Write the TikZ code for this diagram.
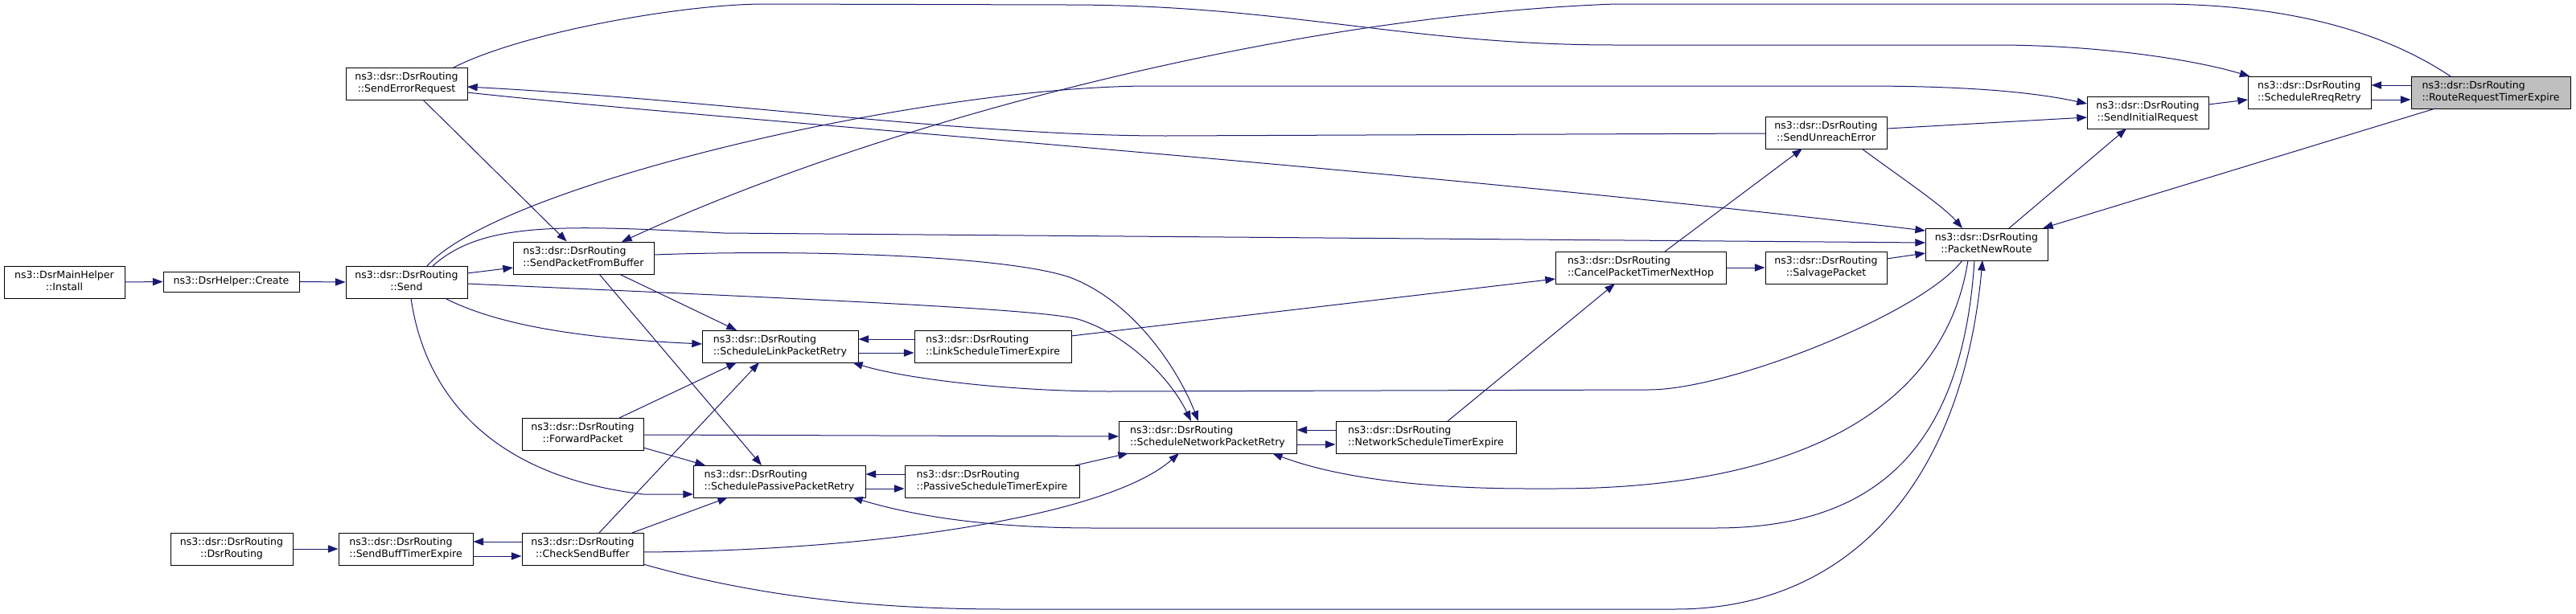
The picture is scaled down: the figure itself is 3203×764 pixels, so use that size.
\documentclass[tikz,border=0pt]{standalone}
\usepackage{fontspec}
\setmainfont{DejaVu Sans}
\usetikzlibrary{arrows.meta,calc}
\definecolor{edgeblue}{HTML}{191970}
\definecolor{rootgray}{HTML}{BFBFBF}
\newcommand\twol[2]{\begin{tabular}{@{}l@{}}#1\\\hfill#2\hfill\mbox{}\end{tabular}}
\tikzset{
  fbox/.style 2 args={draw=black, line width=0.75pt, fill=white, inner sep=0pt,
    minimum width=#1*0.75pt, minimum height=#2*0.75pt,
    font=\fontsize{9.4}{11.25}\selectfont},
  rootbox/.style={fill=rootgray},
  edge/.style={draw=edgeblue, line width=0.75pt, -{Triangle[length=9.5pt,width=7pt]}},
}
\begin{document}
\begin{tikzpicture}[x=0.75pt,y=-0.75pt]
\useasboundingbox (0,0) rectangle (3203,764);
% nodes
\node[fbox={150}{40}] (inst) at (80,351) {\twol{ns3::DsrMainHelper}{::Install}};
\node[fbox={169}{25}] (create) at (287.5,350.5) {ns3::DsrHelper::Create};
\node[fbox={151}{40}] (send) at (505.5,351) {\twol{ns3::dsr::DsrRouting}{::Send}};
\node[fbox={151}{40}] (ser) at (505.5,104) {\twol{ns3::dsr::DsrRouting}{::SendErrorRequest}};
\node[fbox={175}{40}] (spfb) at (725.5,321) {\twol{ns3::dsr::DsrRouting}{::SendPacketFromBuffer}};
\node[fbox={152}{40}] (dsrr) at (288,683) {\twol{ns3::dsr::DsrRouting}{::DsrRouting}};
\node[fbox={167}{40}] (sbte) at (504.5,683) {\twol{ns3::dsr::DsrRouting}{::SendBuffTimerExpire}};
\node[fbox={151}{40}] (csb) at (724.5,683) {\twol{ns3::dsr::DsrRouting}{::CheckSendBuffer}};
\node[fbox={151}{40}] (fp) at (724.5,540) {\twol{ns3::dsr::DsrRouting}{::ForwardPacket}};
\node[fbox={194}{40}] (slpr) at (970,431) {\twol{ns3::dsr::DsrRouting}{::ScheduleLinkPacketRetry}};
\node[fbox={195}{40}] (lste) at (1234.5,431) {\twol{ns3::dsr::DsrRouting}{::LinkScheduleTimerExpire}};
\node[fbox={214}{40}] (sppr) at (969,599) {\twol{ns3::dsr::DsrRouting}{::SchedulePassivePacketRetry}};
\node[fbox={217}{40}] (pste) at (1233.5,599) {\twol{ns3::dsr::DsrRouting}{::PassiveScheduleTimerExpire}};
\node[fbox={221}{40}] (snpr) at (1501.5,544) {\twol{ns3::dsr::DsrRouting}{::ScheduleNetworkPacketRetry}};
\node[fbox={224}{40}] (nste) at (1773,544) {\twol{ns3::dsr::DsrRouting}{::NetworkScheduleTimerExpire}};
\node[fbox={212}{40}] (cptnh) at (2040,333) {\twol{ns3::dsr::DsrRouting}{::CancelPacketTimerNextHop}};
\node[fbox={151}{40}] (sp) at (2270.5,333) {\twol{ns3::dsr::DsrRouting}{::SalvagePacket}};
\node[fbox={151}{40}] (sue) at (2270.5,165) {\twol{ns3::dsr::DsrRouting}{::SendUnreachError}};
\node[fbox={152}{40}] (pnr) at (2470,304) {\twol{ns3::dsr::DsrRouting}{::PacketNewRoute}};
\node[fbox={151}{40}] (sir) at (2670.5,140) {\twol{ns3::dsr::DsrRouting}{::SendInitialRequest}};
\node[fbox={153}{40}] (srr) at (2871.5,115) {\twol{ns3::dsr::DsrRouting}{::ScheduleRreqRetry}};
\node[fbox={198}{40},rootbox] (rrte) at (3097,115) {\twol{ns3::dsr::DsrRouting}{::RouteRequestTimerExpire}};
% edges
\draw[edge] (inst.east) -- (create.west);
\draw[edge] (create.east) -- (send.west);
\draw[edge] ($(send)+(75.5,-11)$) -- ($(spfb)+(-87.5,12)$);
\draw[edge] (ser) -- (spfb);
\draw[edge] ($(ser)+(58.5,-20)$) .. controls (650,40) and (850,5) .. (951,5) -- (1326,6)
  .. controls (1600,6) and (1750,56) .. (2008,56) -- (2482,56)
  .. controls (2600,56) and (2720,72) .. ($(srr)+(-74,-20)$);
\draw[edge] ($(rrte)+(-50,-20)$) .. controls (2950,30) and (2820,5) .. (2681,5) -- (2008,5)
  .. controls (1600,20) and (1100,150) .. ($(spfb)+(47.5,-20)$);
\draw[edge] ($(send)+(25.5,-20)$) .. controls (620,230) and (1150,107) .. (1431,107) -- (2315,107)
  .. controls (2450,107) and (2530,115) .. ($(sir)+(-75.5,-11)$);
\draw[edge] ($(send)+(32.5,-20)$) .. controls (600,275) and (700,280) .. (900,290) -- ($(pnr)+(-76,-2)$);
\draw[edge] ($(send)+(47.5,20)$) .. controls (610,400) and (700,420) .. ($(slpr)+(-97,-3)$);
\draw[edge] ($(send)+(5.5,20)$) .. controls (525,470) and (590,590) .. (800,615) -- ($(sppr)+(-107,16)$);
\draw[edge] ($(send)+(75.5,2)$) .. controls (1000,372) and (1290,384) .. (1340,397)
  .. controls (1400,415) and (1455,470) .. ($(snpr)+(-20.5,-20)$);
\draw[edge] ($(spfb)+(87.5,-4)$) .. controls (1000,310) and (1250,318) .. (1330,345)
  .. controls (1410,375) and (1465,460) .. ($(snpr)+(-11.5,-20)$);
\draw[edge] ($(spfb)+(44.5,20)$) -- ($(slpr)+(-54,-20)$);
\draw[edge] ($(spfb)+(19.5,20)$) -- ($(sppr)+(-22,-20)$);
\draw[edge] ($(lste.west)+(0,-9)$) -- ($(slpr.east)+(0,-9)$);
\draw[edge] ($(slpr.east)+(0,8)$) -- ($(lste.west)+(0,8)$);
\draw[edge] ($(lste)+(97.5,-13)$) -- ($(cptnh)+(-106,14)$);
\draw[edge] ($(nste.west)+(0,-9)$) -- ($(snpr.east)+(0,-9)$);
\draw[edge] ($(snpr.east)+(0,9)$) -- ($(nste.west)+(0,9)$);
\draw[edge] ($(pste.west)+(0,-9)$) -- ($(sppr.east)+(0,-9)$);
\draw[edge] ($(sppr.east)+(0,9)$) -- ($(pste.west)+(0,9)$);
\draw[edge] ($(pste)+(103.5,-20)$) -- ($(snpr)+(-98.5,20)$);
\draw[edge] ($(nste)+(27,-20)$) -- ($(cptnh)+(-32,20)$);
\draw[edge] ($(pnr)+(-30,20)$) .. controls (2390,390) and (2150,485) .. (2050,485) -- (1380,487)
  .. controls (1250,487) and (1120,470) .. ($(slpr)+(90,20)$);
\draw[edge] ($(pnr)+(-23,20)$) .. controls (2420,500) and (2250,608) .. (1933,608) -- (1900,608)
  .. controls (1750,608) and (1650,590) .. ($(snpr)+(80.5,20)$);
\draw[edge] ($(pnr)+(-15,20)$) .. controls (2440,560) and (2330,657) .. (2133,657) -- (1361,657)
  .. controls (1220,657) and (1130,640) .. ($(sppr)+(91,20)$);
\draw[edge] ($(csb)+(75.5,19)$) .. controls (950,745) and (1100,758) .. (1250,758) -- (2083,758)
  .. controls (2300,758) and (2440,600) .. ($(pnr)+(-5,20)$);
\draw[edge] ($(csb)+(75.5,4)$) .. controls (1100,685) and (1380,640) .. ($(snpr)+(-35.5,20)$);
\draw[edge] ($(fp)+(75.5,1)$) -- ($(snpr)+(-110.5,-1)$);
\draw[edge] ($(fp)+(45.5,-20)$) -- ($(slpr)+(-54,20)$);
\draw[edge] ($(fp)+(75.5,17)$) -- ($(sppr)+(-92,-20)$);
\draw[edge] ($(csb)+(20.5,-20)$) -- ($(slpr)+(-26,20)$);
\draw[edge] ($(csb)+(61.5,-20)$) -- ($(sppr)+(-64,20)$);
\draw[edge] (dsrr.east) -- (sbte.west);
\draw[edge] ($(csb.west)+(0,-9)$) -- ($(sbte.east)+(0,-9)$);
\draw[edge] ($(sbte.east)+(0,9)$) -- ($(csb.west)+(0,9)$);
\draw[edge] ($(sue)+(-75.5,1)$) -- (1450,169) .. controls (1200,169) and (900,125) .. ($(ser)+(75.5,4)$);
\draw[edge] ($(ser)+(75.5,11)$) .. controls (900,150) and (1700,205) .. ($(pnr)+(-76,-17)$);
\draw[edge] ($(sue)+(75.5,-5)$) -- ($(sir)+(-75.5,6)$);
\draw[edge] ($(sue)+(44.5,20)$) .. controls (2355,215) and (2415,255) .. ($(pnr)+(-30,-20)$);
\draw[edge] ($(cptnh)+(30,-20)$) -- ($(sue)+(-29.5,20)$);
\draw[edge] (cptnh.east) -- (sp.west);
\draw[edge] ($(sp)+(75.5,-11)$) -- ($(pnr)+(-76,11)$);
\draw[edge] ($(pnr)+(28,-20)$) -- ($(sir)+(-26.5,20)$);
\draw[edge] ($(rrte)+(-69,20)$) -- ($(pnr)+(70,-20)$);
\draw[edge] ($(sir)+(75.5,-10)$) -- ($(srr)+(-76.5,9)$);
\draw[edge] ($(rrte.west)+(0,-9)$) -- ($(srr.east)+(0,-9)$);
\draw[edge] ($(srr.east)+(0,9)$) -- ($(rrte.west)+(0,9)$);
\end{tikzpicture}
\end{document}
